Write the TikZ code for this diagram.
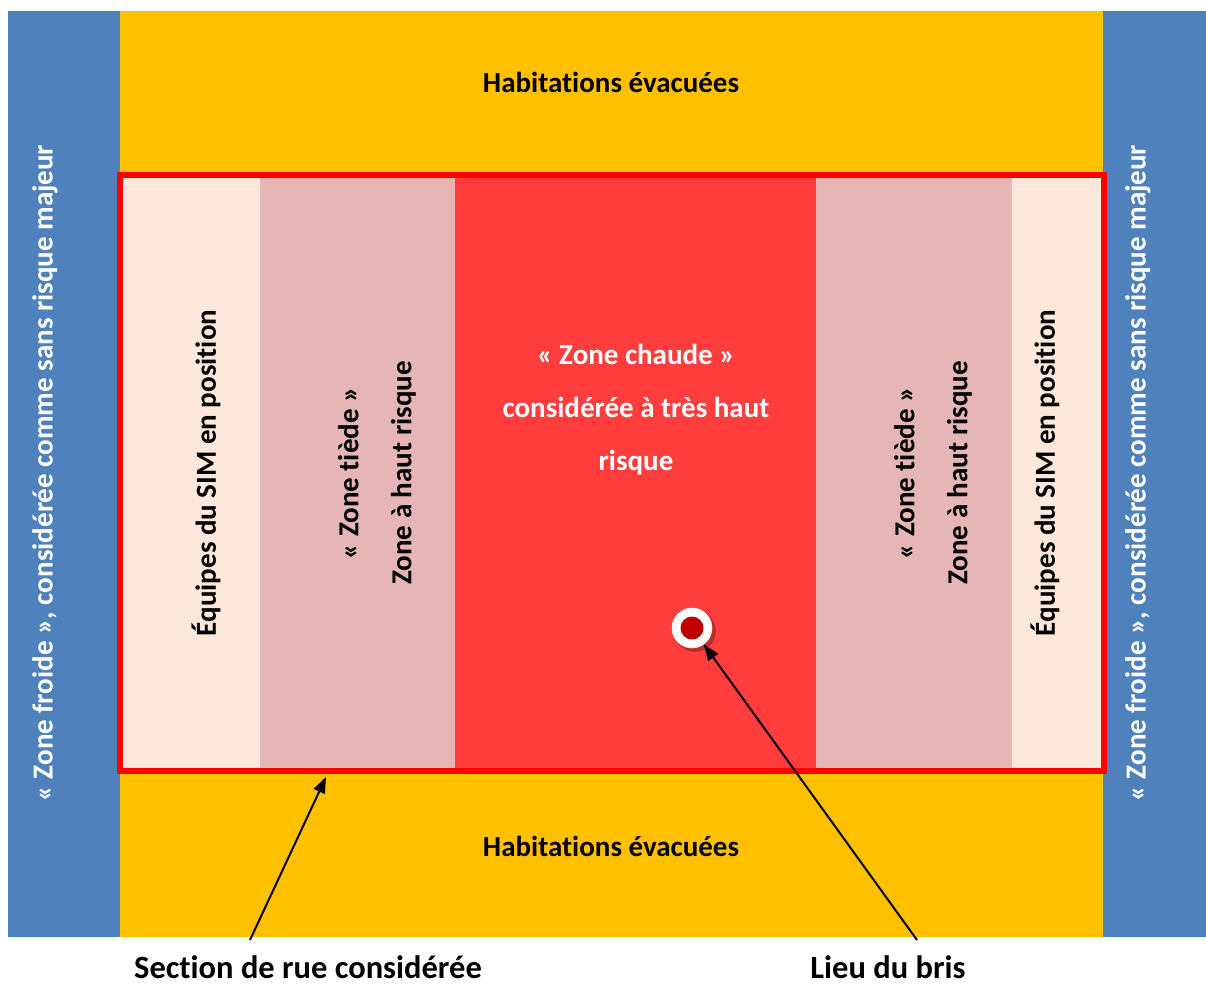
\documentclass[tikz,border=0pt]{standalone}
\usepackage{fontspec}
\setmainfont{Carlito}[Ligatures=NoCommon]
\usetikzlibrary{arrows.meta}
\definecolor{froid}{HTML}{4F81BD}
\definecolor{habit}{HTML}{FFC000}
\definecolor{pale}{HTML}{FBE8DA}
\definecolor{tiede}{HTML}{E5B6B5}
\definecolor{chaud}{HTML}{FF3D3D}
\definecolor{bord}{HTML}{FF0000}
\definecolor{dotred}{HTML}{C00000}
\tikzset{
  lbl/.style={font=\fontsize{29}{53}\selectfont\bfseries, align=center, inner sep=0pt},
  biglbl/.style={lbl, font=\fontsize{32.5}{40}\selectfont\bfseries, anchor=base},
  wlbl/.style={lbl, text=white},
  vlbl/.style={lbl, rotate=90},
  wvlbl/.style={wlbl, rotate=90},
  pointer/.style={-{Triangle[length=16pt,width=12pt]}, line width=2pt, black},
}
\begin{document}
\begin{tikzpicture}[x=1pt,y=-1pt]
\useasboundingbox (0,0) rectangle (1206,985);
% background bands
\fill[froid] (8,11) rectangle (120,937);
\fill[froid] (1103,11) rectangle (1206,937);
\fill[habit] (120,11) rectangle (1103,937);
% inner strips
\fill[pale] (120,175) rectangle (260,771);
\fill[tiede] (260,175) rectangle (455,771);
\fill[chaud] (455,175) rectangle (816,771);
\fill[tiede] (816,175) rectangle (1012,771);
\fill[pale] (1012,175) rectangle (1104,771);
\draw[bord, line width=6pt] (120,175) rectangle (1104,771);
% texts
\node[lbl] (hab1) at (611,82) {Habitations évacuées};
\node[lbl] (hab2) at (611,846) {Habitations évacuées};
\node[wlbl] (chaude) at (636,410) {« Zone chaude »\\considérée à très haut\\risque};
\node[vlbl] (equ1) at (206,473) {Équipes du SIM en position};
\node[vlbl] (tie1) at (377,473) {« Zone tiède »\\Zone à haut risque};
\node[vlbl] (tie2) at (933,473) {« Zone tiède »\\Zone à haut risque};
\node[vlbl] (equ2) at (1045,473) {Équipes du SIM en position};
\node[wvlbl] (fr1) at (45,473) {« Zone froide », considérée comme sans risque majeur};
\node[wvlbl] (fr2) at (1138,473) {« Zone froide », considérée comme sans risque majeur};
\node[biglbl] (sec) at (308,978) {Section de rue considérée};
\node[biglbl] (lieu) at (888,978) {Lieu du bris};
% break point
\fill[black, opacity=0.25] (695,631) circle (21pt);
\node[circle, fill=white, draw=white!92!black, line width=0.5pt, minimum size=40pt, inner sep=0pt] (dot) at (692,628) {};
\fill[dotred] (dot.center) circle (11.5pt);
% pointers
\coordinate (secTail) at (250,940);
\coordinate (secTip) at (326,777);
\coordinate (lieuTail) at (917,940);
\draw[pointer] (secTail) -- (secTip);
\draw[pointer] (lieuTail) -- (dot);
\end{tikzpicture}
\end{document}
